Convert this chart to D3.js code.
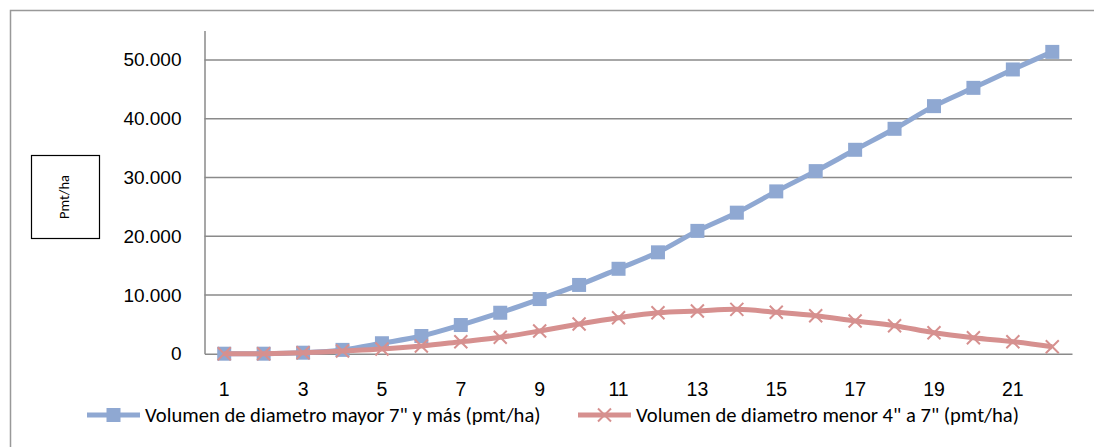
<!DOCTYPE html>
<html>
<head>
<meta charset="utf-8">
<script src="https://cdn.jsdelivr.net/npm/d3@7"></script>
<style>
  html, body { margin: 0; padding: 0; background: #fff; }
  svg { display: block; font-family: Carlito, Lato, "Open Sans", sans-serif; }
</style>
</head>
<body>
<svg id="chart" width="1094" height="447"></svg>
<script>
// Categories (años / clases) and the two volume series in pmt/ha
const categories = d3.range(1, 23);
const volumenMayor7 = [0, 0, 170, 650, 1780, 3010, 4880, 6970, 9300, 11700, 14450, 17250,
                       20900, 24000, 27620, 31070, 34700, 38270, 42130, 45240, 48370, 51360];
const volumenMenor4a7 = [0, 0, 150, 460, 800, 1310, 2040, 2790, 3860, 5050, 6120, 6970,
                         7260, 7550, 7040, 6460, 5560, 4760, 3570, 2720, 2040, 1190];
const yTicks = [0, 10000, 20000, 30000, 40000, 50000];
const xTickLabels = [1, 3, 5, 7, 9, 11, 13, 15, 17, 19, 21];
const seriesNames = [
  'Volumen de diametro mayor 7" y más (pmt/ha)',
  'Volumen de diametro menor 4" a 7" (pmt/ha)'
];
const axisTitle = "Pmt/ha";

const blue = "#8fa8d2";
const red = "#d6908f";
const gridColor = "#8a8a8a";

const svg = d3.select("#chart");

// Outer chart frame (top and left edges visible)
svg.append("path")
  .attr("d", "M10.5,447 L10.5,10.5 L1094,10.5")
  .attr("fill", "none").attr("stroke", "#999").attr("stroke-width", 1.5);

const plot = { left: 204.5, right: 1072, top: 30.5, bottom: 353.7 };

const x = d3.scaleBand().domain(categories).range([plot.left, plot.right]);
const xc = d => x(d) + x.bandwidth() / 2;
const y = d3.scaleLinear().domain([0, 55000]).range([plot.bottom, plot.top]);

const fmt = d3.formatLocale({ decimal: ",", thousands: ".", grouping: [3], currency: ["", ""] }).format(",d");

// Horizontal gridlines
svg.append("g").selectAll("line").data(yTicks.filter(v => v > 0)).join("line")
  .attr("x1", plot.left).attr("x2", plot.right)
  .attr("y1", d => y(d)).attr("y2", d => y(d))
  .attr("stroke", gridColor).attr("stroke-width", 1.5);

// Y axis
const yAxis = svg.append("g").attr("transform", `translate(${plot.left},0)`)
  .call(d3.axisLeft(y).tickValues(yTicks).tickFormat(fmt).tickSize(0).tickPadding(23));
yAxis.select(".domain").attr("stroke", gridColor).attr("stroke-width", 1.5);
yAxis.selectAll("text").attr("font-size", 19).attr("fill", "#000").attr("font-family", null);

// X axis
const xAxis = svg.append("g").attr("transform", `translate(0,${plot.bottom})`)
  .call(d3.axisBottom(x).tickValues(xTickLabels).tickSize(0).tickPadding(28));
xAxis.select(".domain").attr("stroke", gridColor).attr("stroke-width", 1.5);
xAxis.selectAll("text").attr("font-size", 19.5).attr("fill", "#000").attr("font-family", null);

// Y axis title in a box
svg.append("rect").attr("x", 31.5).attr("y", 155.5).attr("width", 68).attr("height", 83)
  .attr("fill", "#fff").attr("stroke", "#000").attr("stroke-width", 1.2);
svg.append("text").attr("transform", "translate(64,197) rotate(-90)")
  .attr("text-anchor", "middle").attr("dominant-baseline", "central")
  .attr("font-size", 14.5).text(axisTitle);

const line = d3.line().x((d, i) => xc(categories[i])).y(d => y(d)).curve(d3.curveCatmullRom.alpha(0));

// Series 1: squares
svg.append("path").datum(volumenMayor7).attr("d", line)
  .attr("fill", "none").attr("stroke", blue).attr("stroke-width", 5).attr("stroke-linejoin", "round");
svg.append("g").selectAll("rect").data(volumenMayor7).join("rect")
  .attr("x", (d, i) => xc(categories[i]) - 7).attr("y", d => y(d) - 7)
  .attr("width", 14).attr("height", 14).attr("fill", blue);

// Series 2: crosses
svg.append("path").datum(volumenMenor4a7).attr("d", line)
  .attr("fill", "none").attr("stroke", red).attr("stroke-width", 5).attr("stroke-linejoin", "round");
const cross = (cx, cy, r) => `M${cx - r},${cy - r}L${cx + r},${cy + r}M${cx - r},${cy + r}L${cx + r},${cy - r}`;
svg.append("g").selectAll("path").data(volumenMenor4a7).join("path")
  .attr("d", (d, i) => cross(xc(categories[i]), y(d), 6.5))
  .attr("stroke", red).attr("stroke-width", 2).attr("fill", "none");

// Legend
const legend = svg.append("g");
const legendItems = [
  { name: seriesNames[0], color: blue, x0: 87, marker: "square" },
  { name: seriesNames[1], color: red, x0: 578, marker: "cross" }
];
const ly = 415;
legendItems.forEach(it => {
  legend.append("line").attr("x1", it.x0).attr("x2", it.x0 + 53).attr("y1", ly).attr("y2", ly)
    .attr("stroke", it.color).attr("stroke-width", 5);
  const mx = it.x0 + 26.5;
  if (it.marker === "square") {
    legend.append("rect").attr("x", mx - 7).attr("y", ly - 7).attr("width", 14).attr("height", 14).attr("fill", it.color);
  } else {
    legend.append("path").attr("d", cross(mx, ly, 6.5)).attr("stroke", it.color).attr("stroke-width", 2);
  }
  legend.append("text").attr("x", it.x0 + 58).attr("y", ly).attr("dominant-baseline", "central")
    .attr("font-size", 20.6).text(it.name);
});
</script>
</body>
</html>
